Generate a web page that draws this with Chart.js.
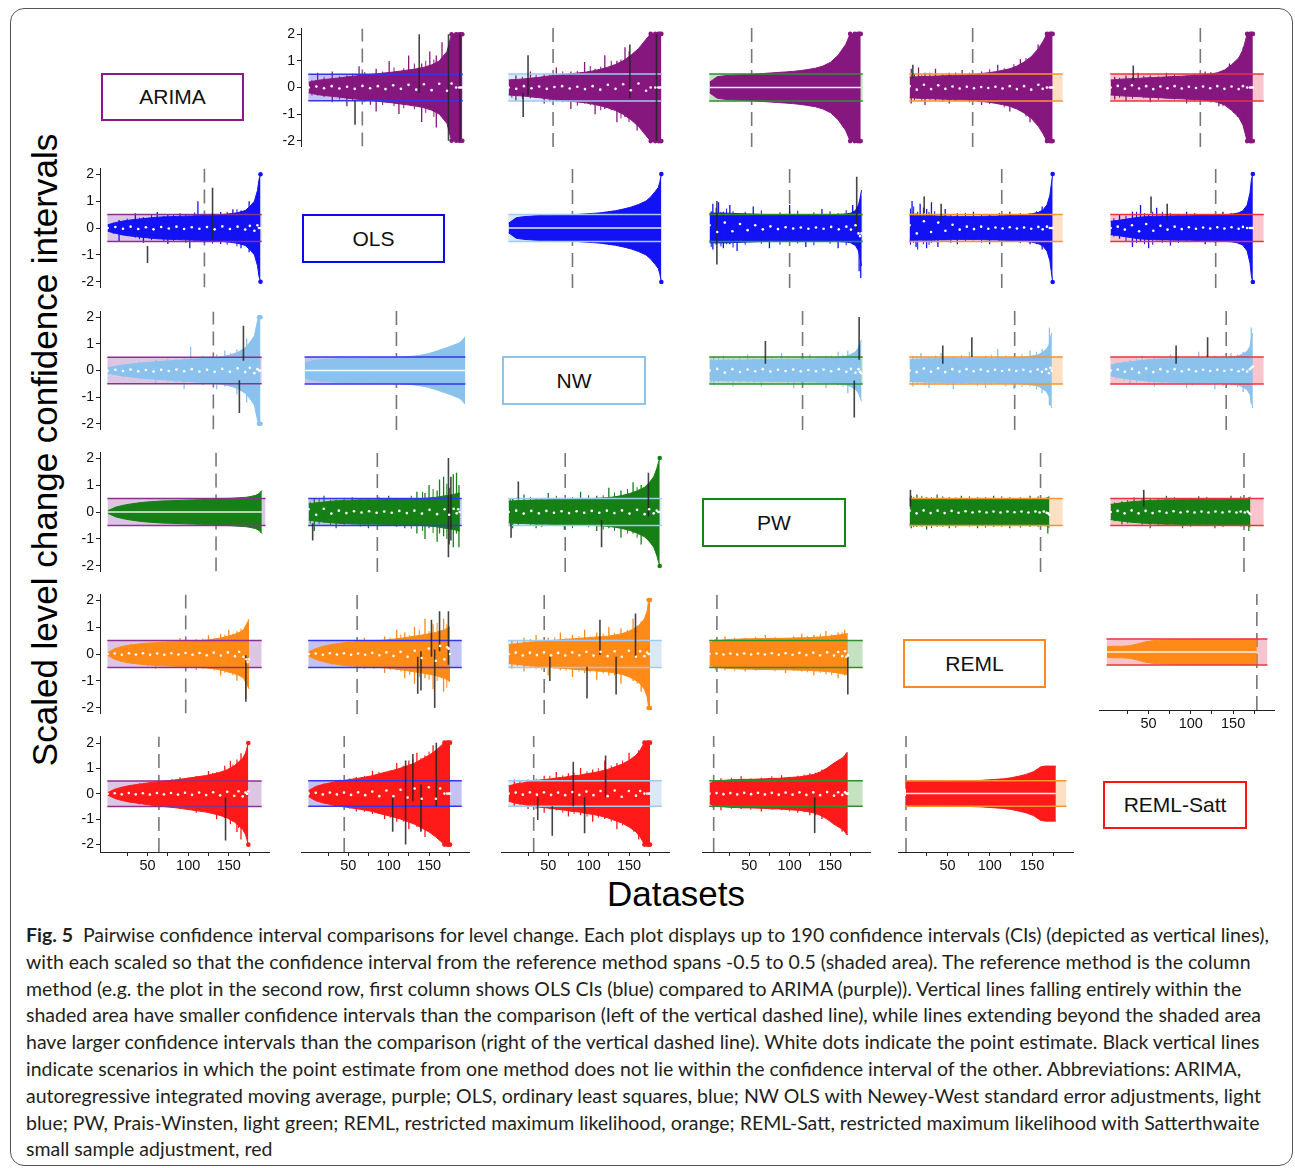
<!DOCTYPE html>
<html>
<head>
<meta charset="utf-8">
<script src="https://cdn.jsdelivr.net/npm/chart.js@4.4.0/dist/chart.umd.min.js"></script>
<style>
  body { margin: 0; background: #fff; }
  #fig { position: relative; width: 1295px; height: 1168px; overflow: hidden; font-family: 'Liberation Sans', Arial, sans-serif; }
  #frame { position: absolute; left: 10px; top: 8px; width: 1283px; height: 1158px; border: 1.5px solid #555; border-radius: 14px; box-sizing: border-box; }
  .box { position: absolute; box-sizing: border-box; border: 2.5px solid; background: #fff; font-size: 21px; color: #111; display: flex; align-items: center; justify-content: center; }
  #ytitle { position: absolute; left: -305px; top: 430px; width: 700px; height: 40px; line-height: 40px; font-size: 35px; text-align: center; transform: rotate(-90deg); white-space: nowrap; color: #000; }
  #xtitle { position: absolute; left: 476px; top: 874px; width: 400px; height: 40px; line-height: 40px; font-size: 35px; text-align: center; color: #000; }
  #caption { position: absolute; left: 26px; top: 922px; font-family: Lato, 'Open Sans', sans-serif; font-size: 19.5px; line-height: 26.8px; color: #231f20; white-space: nowrap; }
  #caption b { font-weight: 700; }
</style>
</head>
<body>
<div id="fig">
  <div id="frame"></div>
  <div id="ytitle">Scaled level change confidence intervals</div>
  <div id="xtitle">Datasets</div>
  <div id="caption">
    <div><b>Fig. 5</b>&nbsp; Pairwise confidence interval comparisons for level change. Each plot displays up to 190 confidence intervals (CIs) (depicted as vertical lines),</div>
    <div>with each scaled so that the confidence interval from the reference method spans -0.5 to 0.5 (shaded area). The reference method is the column</div>
    <div>method (e.g. the plot in the second row, first column shows OLS CIs (blue) compared to ARIMA (purple)). Vertical lines falling entirely within the</div>
    <div>shaded area have smaller confidence intervals than the comparison (left of the vertical dashed line), while lines extending beyond the shaded area</div>
    <div>have larger confidence intervals than the comparison (right of the vertical dashed line). White dots indicate the point estimate. Black vertical lines</div>
    <div>indicate scenarios in which the point estimate from one method does not lie within the confidence interval of the other. Abbreviations: ARIMA,</div>
    <div>autoregressive integrated moving average, purple; OLS, ordinary least squares, blue; NW OLS with Newey-West standard error adjustments, light</div>
    <div>blue; PW, Prais-Winsten, light green; REML, restricted maximum likelihood, orange; REML-Satt, restricted maximum likelihood with Satterthwaite</div>
    <div>small sample adjustment, red</div>
  </div>
</div>
<script>
// methods, in row / column order
const methods = ['ARIMA', 'OLS', 'NW', 'PW', 'REML', 'REML-Satt'];

// sample positions along each panel (fraction of the sorted datasets)
const pos = [0, .05, .1, .15, .2, .25, .3, .35, .4, .45, .5, .55, .6, .65, .7, .75, .8, .85, .9, .93, .96, .98, .99, 1];
const flat = [0, 0, 0, 0, 0, 0, 0, 0, 0, 0, 0, 0, 0, 0, 0, 0, 0, 0, 0, 0, 0, 0, 0, 0];

const xTickValues = [25, 50, 75, 100, 125, 150, 175];
const xTickLabels = [50, 100, 150];
const yTickValues = [-2, -1, 0, 1, 2];

// each row: number of CIs, dashed-line rank, typical half width (core), point estimates,
// single CIs sticking out of the core [rank, low, high] (long ones and short "fuzz"),
// black mismatch CIs [rank, low, high]

// ARIMA row (purple CIs)
const arimaN = [null, 190, 190, 188, 178, 177];
const arimaDash = [null, 67, 56, 53, 79, 112];
const arimaHalf = [null,
  [.2,.26,.3,.33,.36,.4,.43,.46,.49,.52,.55,.58,.62,.66,.7,.76,.85,1.0,1.35,2.2,2.5,2.5,2.5,2.5],
  [.28,.3,.32,.35,.38,.42,.45,.48,.51,.54,.57,.62,.68,.76,.86,1.0,1.2,1.45,1.8,2.3,2.5,2.5,2.5,2.5],
  [.2,.4,.44,.46,.47,.48,.5,.52,.54,.56,.58,.6,.63,.67,.72,.8,.94,1.2,1.6,2.1,2.5,2.5,2.5,2.5],
  [.38,.4,.41,.42,.43,.44,.45,.46,.47,.49,.52,.55,.59,.64,.7,.8,.95,1.15,1.45,1.7,2.2,2.5,2.5,2.5],
  [.28,.3,.32,.33,.34,.36,.37,.38,.4,.41,.42,.44,.45,.47,.5,.55,.65,.85,1.1,1.4,2.0,2.5,2.5,2.5]];
const arimaEst = [null,
  [0,.04,-.03,.05,-.04,.03,-.05,.06,-.03,.05,-.06,.08,-.05,.1,-.08,.12,-.1,.14,-.12,.15,0,0,0,0],
  [0,-.05,.05,-.03,.04,-.05,.02,.05,-.04,.03,-.06,.05,-.08,.1,-.05,.12,-.1,.15,-.12,0,0,0,0,0],
  flat,
  [.05,-.08,.1,-.06,.08,-.05,.04,-.04,.03,-.03,.02,-.02,.03,-.04,.05,-.06,.05,-.08,.1,-.05,0,0,0,0],
  [0,.06,-.05,.08,-.04,.05,-.06,.04,-.03,.05,-.04,.03,-.02,.04,-.03,.05,-.05,.04,-.06,.05,0,0,0,0]];
const arimaSpikes = [null,
  [[12,-.3,.55],[30,-.55,.6],[48,-.7,.45],[63,-.4,.8],[77,-.65,.5],[84,-.9,.7],[100,-.5,1.0],[112,-1.0,.6],[124,-.6,1.2],[140,-1.3,.9],[150,-.8,1.35],[158,-1.5,1.2],[165,-1.1,1.7]],
  [[10,-.5,.45],[28,-.4,.6],[45,-.6,.5],[60,-.5,.75],[78,-.8,.6],[95,-.6,.95],[108,-1.0,.7],[120,-.8,1.2],[135,-1.3,1.0],[145,-1.1,1.5],[160,-1.6,1.4]],
  [],
  [[3,-.6,.7],[12,-.3,.75],[20,-.65,.55],[33,-.5,.7],[50,-.6,.55],[66,-.4,.65],[90,-.65,.6],[110,-.5,.85],[125,-.9,.7],[138,-.8,1.05],[150,-1.3,1.0],[160,-1.2,1.6]],
  [[6,-.45,.4],[20,-.5,.45],[35,-.35,.55],[50,-.55,.45],[70,-.4,.55],[95,-.6,.45],[118,-.45,.6],[135,-.7,.55],[148,-.6,.9],[158,-1.1,.9],[165,-1.2,1.5]]];
const arimaFuzz = [null,
  [[5,-.3,.28],[20,-.36,.4],[39,-.45,.42],[55,-.5,.52],[70,-.55,.58],[92,-.66,.6],[106,-.7,.75],[118,-.78,.72],[131,-.82,.9],[145,-.95,1.0],[155,-1.1,1.05]],
  [[5,-.38,.32],[18,-.42,.4],[35,-.4,.48],[52,-.52,.5],[68,-.55,.6],[86,-.68,.62],[102,-.66,.8],[115,-.85,.78],[128,-.85,1.0],[140,-1.15,1.05],[150,-1.3,1.35]],
  [],
  [[7,-.48,.5],[16,-.5,.46],[26,-.46,.55],[42,-.52,.5],[58,-.5,.56],[75,-.56,.55],[100,-.62,.68],[118,-.74,.72],[130,-.78,.88],[145,-1.08,1.1]],
  [[12,-.38,.36],[28,-.42,.38],[42,-.4,.44],[60,-.46,.42],[80,-.45,.48],[105,-.52,.5],[125,-.56,.58],[140,-.7,.66],[153,-.95,.9]]];
const arimaBlack = [null,
  [[58,-1.4,-.5],[137,-.2,2],[173,-2,2],[187,-2,2]],
  [[25,-.3,1.2],[19,-1.1,-.2],[151,-.4,1.6],[184,-2,2]],
  [],
  [[5,.35,.85]],
  [[29,.26,.82]]];

// OLS row (blue CIs)
const olsN = [189, null, 190, 189, 178, 177];
const olsDash = [120, null, 80, 100, 115, 131];
const olsHalf = [
  [.12,.2,.26,.3,.33,.36,.39,.41,.42,.43,.44,.45,.46,.47,.48,.5,.53,.57,.65,.8,1.0,1.4,1.8,2.5],
  null,
  [.18,.38,.42,.44,.46,.47,.48,.49,.5,.5,.52,.54,.56,.6,.64,.7,.77,.87,1.0,1.15,1.35,1.5,1.7,2.1],
  [.55,.55,.55,.54,.53,.52,.51,.5,.5,.5,.49,.49,.49,.49,.49,.49,.5,.5,.52,.55,.65,.85,1.1,1.4],
  [.45,.45,.45,.45,.44,.44,.43,.43,.43,.43,.43,.44,.44,.45,.46,.47,.49,.52,.58,.66,.85,1.2,1.6,2.2],
  [.25,.28,.32,.36,.4,.42,.43,.44,.44,.45,.45,.45,.46,.46,.47,.48,.49,.51,.56,.64,.85,1.3,1.8,2.3]];
const olsEst = [
  [0,.04,-.03,.05,-.04,.03,-.05,.04,-.02,.05,-.04,.03,-.03,.04,-.05,.06,-.04,.05,-.06,.08,-.1,.1,0,0],
  null,
  flat,
  [.1,-.15,.2,-.12,.15,-.08,.1,-.05,.06,-.04,.03,-.02,.02,-.03,.02,-.03,.04,-.05,.05,-.06,.1,-.2,-.3,-.2],
  [.1,-.2,.25,-.15,.2,-.1,.12,-.06,.05,-.04,.05,-.03,.02,-.02,.03,-.02,.02,-.03,.04,-.05,.05,0,0,0],
  [0,.05,-.06,.1,-.12,.15,-.1,.08,-.06,.05,-.04,.03,-.03,.02,-.02,.03,-.02,.03,-.03,.04,0,0,0,0]];
const olsSpikes = [
  [[15,-.5,.3],[35,-.35,.55],[45,-.55,.4],[62,-.4,.6],[75,-.6,.5],[90,-.45,.55],[102,-.75,.3],[112,-.3,1.0],[120,-.55,.45],[140,-.6,.6],[155,-.5,.7],[165,-.75,.65],[175,-.9,1.0]],
  null,
  [],
  [[5,-.8,.9],[12,-.3,.95],[18,-.75,.6],[26,-.6,.85],[35,-.85,.5],[55,-.4,.8],[75,-.75,.4],[100,-.5,.85],[120,-.7,.5],[140,-.45,.7],[160,-.75,.55],[178,-.6,.85],[186,-1.6,.9],[188,-1.85,1.2]],
  [[4,-.5,1.0],[9,-.7,.55],[14,-.3,.9],[22,-.75,.7],[28,-.55,.95],[36,-.7,.45],[45,-.3,.7],[60,-.6,.55],[80,-.45,.6],[100,-.6,.5],[125,-.5,.6],[150,-.6,.55],[165,-.8,.8]],
  [[12,-.4,.5],[28,-.7,.6],[38,-.5,.85],[48,-.75,.5],[58,-.45,.75],[75,-.65,.55],[95,-.5,.6],[118,-.6,.5],[140,-.45,.6],[160,-.6,.55]]];
const olsFuzz = [
  [[8,-.22,.2],[25,-.3,.35],[40,-.42,.38],[55,-.45,.48],[70,-.5,.45],[82,-.48,.52],[97,-.55,.5],[108,-.5,.58],[130,-.58,.55],[148,-.62,.6],[160,-.68,.7]],
  null,
  [],
  [[3,-.7,.62],[9,-.62,.75],[15,-.68,.6],[22,-.6,.72],[30,-.72,.62],[45,-.62,.6],[65,-.58,.65],[88,-.62,.58],[110,-.57,.64],[130,-.64,.58],[150,-.58,.62],[170,-.64,.66]],
  [[2,-.62,.72],[6,-.55,.8],[11,-.8,.6],[18,-.6,.75],[25,-.62,.6],[32,-.52,.62],[52,-.55,.52],[70,-.5,.56],[90,-.54,.5],[112,-.5,.56],[138,-.56,.55],[158,-.6,.62]],
  [[5,-.32,.36],[20,-.5,.45],[33,-.55,.6],[43,-.6,.55],[53,-.62,.6],[65,-.55,.6],[85,-.55,.52],[105,-.52,.55],[130,-.54,.52],[150,-.52,.56],[168,-.7,.65]]];
const olsBlack = [
  [[50,-1.3,-.67],[130,-.4,1.5]],
  null,
  [],
  [[10,-1.35,1.0],[183,-.07,1.9]],
  [[19,.55,1.17],[40,.3,.9]],
  [[51,.55,1.17],[71,.3,.9]]];

// NW row (light blue CIs)
const nwN = [189, 190, null, 189, 177, 177];
const nwDash = [131, 109, null, 116, 131, 144];
const nwHalf = [
  [.1,.16,.2,.24,.27,.3,.32,.34,.36,.38,.4,.42,.44,.46,.48,.52,.58,.68,.85,1.05,1.3,1.85,2.2,2.3],
  [.28,.36,.4,.42,.44,.45,.46,.47,.47,.48,.48,.49,.5,.52,.55,.6,.68,.78,.88,.95,1.02,1.1,1.18,1.25],
  null,
  [.36,.37,.38,.38,.39,.39,.4,.4,.4,.41,.41,.41,.42,.42,.43,.44,.46,.49,.54,.6,.7,.85,1.0,1.15],
  [.4,.42,.43,.44,.44,.45,.45,.45,.45,.46,.46,.46,.46,.47,.47,.48,.5,.53,.58,.66,.78,.95,1.25,1.4],
  [.2,.26,.3,.33,.36,.39,.41,.43,.43,.44,.44,.45,.45,.46,.46,.47,.48,.5,.55,.62,.72,.9,1.2,1.4]];
const nwEst = [
  [0,.03,-.02,.04,-.03,.02,-.04,.03,-.02,.04,-.03,.05,-.04,.03,-.05,.06,-.05,.08,-.06,.1,-.1,.05,0,0],
  flat,
  null,
  [0,.06,-.08,.05,-.06,.04,-.03,.05,-.04,.03,-.02,.04,-.03,.02,-.03,.04,-.03,.05,-.05,.06,-.08,.05,-.05,-.1],
  [0,-.06,.07,-.05,.08,-.06,.05,-.04,.05,-.03,.04,-.03,.03,-.02,.03,-.02,.03,-.04,.04,-.05,.05,-.1,.1,0],
  [0,.04,-.05,.06,-.08,.07,-.06,.05,-.04,.05,-.03,.04,-.03,.03,-.02,.03,-.02,.03,-.03,.04,-.04,.05,.1,.15]];
const nwSpikes = [
  [[60,-.5,.4],[95,-.7,.5],[103,-.4,.9],[118,-.55,.55],[135,-.7,.6],[145,-.6,.75],[160,-.9,.8],[172,-1.2,1.2]],
  [],
  null,
  [[6,-.55,.5],[18,-.4,.55],[30,-.6,.45],[48,-.45,.6],[65,-.6,.45],[90,-.4,.65],[105,-.65,.45],[125,-.45,.6],[145,-.65,.55],[160,-.55,.7],[172,-.85,.75]],
  [[5,-.6,.55],[15,-.4,.65],[25,-.65,.5],[40,-.45,.65],[55,-.7,.5],[75,-.5,.7],[95,-.65,.55],[110,-.5,.8],[130,-.7,.55],[150,-.6,.75],[165,-.85,.8],[174,-1.3,1.6]],
  [[25,-.5,.4],[40,-.35,.55],[55,-.6,.5],[75,-.45,.6],[95,-.65,.5],[110,-.5,.7],[130,-.7,.55],[150,-.55,.65],[165,-.8,.7],[175,-1.25,1.6]]];
const nwFuzz = [
  [[20,-.25,.22],[40,-.32,.35],[75,-.42,.45],[85,-.46,.42],[110,-.48,.5],[127,-.52,.55],[152,-.62,.66],[165,-.75,.7]],
  [],
  null,
  [[3,-.45,.42],[12,-.42,.48],[24,-.46,.44],[38,-.44,.48],[56,-.48,.45],[78,-.45,.5],[98,-.5,.46],[115,-.46,.52],[135,-.52,.5],[152,-.5,.56],[166,-.62,.6]],
  [[10,-.5,.55],[20,-.55,.5],[33,-.5,.56],[48,-.56,.52],[65,-.52,.58],[85,-.58,.52],[102,-.54,.6],[120,-.6,.56],[140,-.62,.62],[158,-.7,.7]],
  [[8,-.32,.3],[18,-.38,.36],[33,-.45,.42],[48,-.5,.45],[65,-.52,.5],[85,-.5,.55],[102,-.56,.5],[120,-.52,.58],[140,-.58,.55],[158,-.62,.6]]];
const nwBlack = [
  [[168,.37,1.68],[163,-1.6,-.37]],
  [],
  null,
  [[70,.25,1.1],[186,.4,2.0],[180,-1.75,-.37]],
  [[42,.25,.93],[78,.5,1.24]],
  [[82,.25,.93],[121,.5,1.24]]];

// PW row (green CIs)
const pwN = [186, 188, 188, null, 174, 174];
const pwDash = [131, 86, 71, null, 163, 166];
const pwHalf = [
  [.05,.18,.25,.3,.34,.37,.39,.41,.42,.43,.44,.45,.46,.47,.48,.5,.51,.53,.55,.58,.62,.68,.74,.8],
  [.3,.34,.37,.4,.42,.43,.44,.45,.45,.45,.46,.46,.47,.48,.49,.5,.52,.55,.6,.62,.65,.68,.7,.7],
  [.4,.42,.43,.44,.45,.45,.46,.46,.47,.48,.49,.5,.51,.53,.56,.61,.68,.78,.92,1.08,1.3,1.6,1.8,2.1],
  null,
  [.45,.47,.48,.48,.48,.48,.48,.48,.48,.48,.48,.48,.48,.48,.48,.48,.48,.48,.49,.49,.5,.51,.54,.58],
  [.28,.32,.35,.38,.4,.42,.43,.44,.45,.45,.46,.46,.46,.47,.47,.47,.48,.48,.48,.49,.49,.5,.52,.56]];
const pwEst = [
  flat,
  [.1,-.1,.12,-.06,.05,-.04,.03,-.02,.03,-.03,.02,-.03,.04,-.04,.05,-.06,.08,-.08,.1,-.1,.12,-.05,.1,0],
  [0,.05,-.06,.04,-.05,.04,-.03,.03,-.04,.03,-.03,.04,-.03,.05,-.04,.06,-.06,.08,-.08,.1,-.05,.05,0,0],
  null,
  [.05,-.05,.06,-.04,.05,-.04,.04,-.03,.03,-.02,.02,-.02,.02,-.02,.02,-.01,.02,-.02,.02,-.02,.02,-.03,-.05,-.1],
  [0,.04,-.05,.06,-.05,.04,-.04,.03,-.03,.03,-.02,.02,-.02,.02,-.02,.02,-.02,.02,-.02,.02,-.02,.02,-.04,-.08]];
const pwSpikes = [
  [],
  [[8,-.7,.5],[20,-.4,.6],[35,-.6,.45],[55,-.45,.55],[75,-.6,.5],[100,-.45,.6],[120,-.6,.5],[135,-.8,.75],[145,-1.0,.7],[150,-.6,1.0],[160,-1.1,.8],[163,-.8,1.2],[168,-.9,1.3],[175,-1.2,.9],[180,-1.3,1.4],[184,-.8,1.45],[187,-1.3,1.0]],
  [[6,-.6,.5],[20,-.4,.65],[35,-.6,.5],[50,-.45,.7],[70,-.65,.5],[90,-.5,.75],[110,-.7,.6],[125,-.6,.9],[140,-.95,.8],[155,-.8,1.1],[165,-1.2,1.0]],
  null,
  [[3,-.6,.6],[10,-.55,.65],[22,-.65,.55],[35,-.55,.65],[50,-.6,.55],[65,-.5,.6],[85,-.6,.55],[105,-.55,.6],[125,-.6,.55],[150,-.55,.6],[172,-.8,.55]],
  [[15,-.45,.4],[30,-.4,.55],[50,-.6,.5],[70,-.5,.6],[90,-.6,.5],[110,-.5,.58],[130,-.6,.52],[150,-.5,.6],[172,-.7,.55]]];
const pwFuzz = [
  [],
  [[3,-.42,.38],[14,-.45,.48],[28,-.5,.45],[45,-.5,.52],[65,-.54,.5],[88,-.52,.56],[110,-.55,.52],[128,-.62,.6],[142,-.7,.75],[155,-.78,.85],[172,-1.0,1.05]],
  [[3,-.5,.48],[13,-.52,.55],[28,-.5,.56],[42,-.56,.52],[60,-.52,.6],[80,-.6,.55],[100,-.56,.62],[118,-.65,.62],[132,-.7,.72],[148,-.8,.85],[160,-.95,.92]],
  null,
  [[6,-.56,.55],[16,-.55,.6],[28,-.6,.55],[42,-.55,.58],[58,-.58,.54],[75,-.54,.58],[95,-.58,.55],[115,-.55,.58],[138,-.58,.55],[160,-.56,.58]],
  [[6,-.34,.36],[22,-.42,.44],[40,-.5,.48],[60,-.52,.5],[80,-.5,.55],[100,-.55,.52],[120,-.52,.56],[140,-.56,.52],[162,-.54,.58]]];
const pwBlack = [
  [],
  [[6,-1.05,-.42],[174,-1.67,2],[177,-1.05,1.3]],
  [[13,.5,1.13],[4,-.95,-.42],[116,-1.3,-.3],[174,-.17,1.45]],
  null,
  [[2,.2,.82]],
  [[42,.2,.82]]];

// REML row (orange CIs)
const remlN = [175, 176, 176, 172, null, 178];
const remlDash = [97, 61, 45, 10, null, 178];
const remlHalf = [
  [.05,.2,.28,.33,.36,.39,.41,.43,.44,.45,.46,.47,.48,.5,.52,.55,.6,.66,.74,.8,.9,1.1,1.2,1.3],
  [.08,.2,.28,.34,.38,.42,.44,.45,.46,.48,.5,.52,.55,.58,.62,.66,.7,.75,.8,.85,.9,.95,1.0,1.0],
  [.35,.38,.41,.44,.46,.48,.5,.52,.54,.56,.58,.6,.62,.64,.66,.7,.75,.84,.98,1.1,1.3,1.6,2.0,2.2],
  [.42,.5,.52,.54,.55,.56,.56,.57,.57,.58,.58,.58,.59,.6,.6,.62,.63,.65,.68,.7,.72,.75,.75,.75],
  null,
  [.2,.22,.22,.24,.3,.38,.43,.45,.46,.47,.47,.47,.48,.48,.48,.48,.48,.48,.49,.49,.49,.49,.49,.49]];
const remlEst = [
  [0,.02,-.03,.03,-.02,.03,-.03,.02,-.03,.03,-.02,.04,-.03,.04,-.05,.05,-.06,.06,-.08,.08,-.1,-.2,-.3,-.2],
  [0,.02,-.03,.03,-.02,.03,-.03,.02,-.03,.04,-.05,.06,-.07,.08,-.1,.12,-.15,.2,-.25,.3,-.2,.25,.2,0],
  [0,.05,-.06,.05,-.04,.06,-.05,.04,-.06,.06,-.05,.08,-.06,.08,-.08,.1,-.1,.12,-.1,.1,-.08,.05,0,0],
  [0,.02,-.02,.02,-.02,.02,-.02,.02,-.02,.03,-.03,.03,-.03,.04,-.04,.05,-.05,.06,-.06,.07,-.08,.1,-.1,-.05],
  null,
  flat];
const remlSpikes = [
  [[60,-.55,.4],[90,-.45,.6],[110,-.6,.55],[125,-.5,.7],[140,-.8,.75],[150,-.7,.9],[160,-1.0,.85],[171,-1.65,.9]],
  [[70,-.55,.6],[95,-.7,.65],[110,-.6,.9],[120,-.9,.8],[132,-1.1,1.0],[145,-.9,1.3],[155,-1.3,1.1],[168,-1.4,1.3]],
  [[5,-.55,.5],[20,-.65,.6],[35,-.55,.7],[50,-.8,.6],[65,-.6,.8],[80,-.85,.7],[95,-.7,.9],[110,-.95,.8],[125,-.8,1.0],[140,-1.1,.95],[155,-1.0,1.3],[165,-1.4,1.2]],
  [[20,-.6,.65],[45,-.65,.6],[70,-.6,.7],[95,-.7,.6],[115,-.65,.75],[130,-.8,.7],[145,-.75,.85],[160,-.9,.8],[168,-.8,.9]],
  null,
  []];
const remlFuzz = [
  [[30,-.36,.38],[50,-.45,.42],[75,-.46,.5],[100,-.52,.5],[118,-.55,.58],[132,-.62,.6],[145,-.7,.72],[155,-.8,.75],[165,-.85,.95]],
  [[30,-.4,.38],[50,-.46,.48],[60,-.5,.5],[82,-.55,.52],[102,-.6,.6],[115,-.65,.72],[126,-.78,.7],[138,-.85,.9],[150,-.95,.85],[160,-1.0,1.15],[172,-1.25,1.1]],
  [[12,-.45,.48],[28,-.5,.55],[42,-.58,.52],[58,-.55,.62],[72,-.62,.6],[88,-.65,.66],[102,-.68,.65],[118,-.72,.75],[132,-.8,.78],[148,-.85,.9],[160,-1.1,1.05]],
  [[8,-.58,.55],[32,-.62,.6],[58,-.62,.64],[82,-.64,.62],[105,-.62,.66],[122,-.68,.66],[138,-.7,.75],[152,-.78,.72],[165,-.76,.8]],
  null,
  []];
const remlBlack = [
  [[171,-1.78,-.05]],
  [[136,-1.47,-.1],[140,-1.35,.1],[153,-.1,1.27],[157,-2,.17],[163,.1,1.58],[174,-.4,1.58]],
  [[52,-1.0,-.1],[98,-1.65,-.47],[114,-.04,1.27],[134,-1.5,-.1],[158,-.16,1.5]],
  [[172,-1.5,-.1]],
  null,
  []];

// REML-Satt row (red CIs)
const sattN = [174, 176, 176, 172, 178, null];
const sattDash = [64, 45, 32, 6, 1, null];
const sattHalf = [
  [.05,.18,.26,.32,.36,.4,.44,.47,.5,.53,.56,.6,.64,.68,.72,.78,.85,.95,1.1,1.25,1.4,1.6,1.8,2.2],
  [.12,.28,.36,.42,.48,.52,.56,.6,.65,.7,.78,.85,.92,1.0,1.1,1.2,1.35,1.5,1.7,1.85,2.1,2.3,2.5,2.5],
  [.3,.38,.42,.48,.52,.55,.58,.62,.65,.7,.72,.78,.82,.88,.95,1.05,1.15,1.3,1.5,1.7,2.0,2.3,2.5,2.5],
  [.4,.5,.52,.54,.55,.56,.56,.57,.58,.6,.6,.62,.64,.66,.7,.75,.85,1.0,1.2,1.3,1.4,1.5,1.6,1.6],
  [.47,.47,.47,.48,.48,.48,.49,.5,.5,.51,.52,.54,.56,.58,.62,.68,.75,.86,1.05,1.08,1.08,1.08,1.08,1.08],
  null];
const sattEst = [
  [0,.02,-.02,.03,-.02,.02,-.03,.03,-.02,.03,-.03,.04,-.04,.05,-.05,.06,-.06,.08,-.08,.1,-.1,.05,0,.1],
  [0,.03,-.03,.04,-.03,.04,-.05,.05,-.06,.08,-.1,.12,-.1,.15,-.15,.2,-.2,.25,-.2,.2,0,0,0,0],
  [0,.04,-.04,.05,-.04,.05,-.05,.04,-.06,.06,-.05,.08,-.06,.1,-.1,.12,-.12,.1,-.08,.1,0,0,0,0],
  [0,.02,-.02,.02,-.03,.03,-.02,.03,-.03,.03,-.04,.04,-.04,.05,-.05,.05,-.06,.06,-.08,.05,-.05,.05,0,0],
  flat,
  null];
const sattSpikes = [
  [[90,-.6,.65],[110,-.75,.7],[125,-.7,.9],[135,-1.0,.85],[145,-.95,1.1],[152,-1.2,1.3],[160,-1.5,1.35],[165,-1.8,1.6]],
  [[60,-.7,.65],[80,-.8,.9],[95,-1.0,.85],[110,-1.1,1.2],[125,-1.4,1.3],[135,-1.3,1.6],[145,-1.7,1.5],[155,-1.6,1.9]],
  [[8,-.5,.55],[25,-.6,.55],[45,-.75,.7],[60,-.65,.85],[75,-.9,.8],[90,-.85,1.0],[105,-1.1,.95],[120,-1.0,1.3],[135,-1.4,1.2],[150,-1.3,1.6],[162,-1.8,1.7]],
  [[15,-.65,.6],[40,-.6,.68],[65,-.7,.62],[90,-.65,.72],[110,-.75,.7],[125,-.85,.8],[140,-1.0,.95],[155,-1.2,1.2],[165,-1.5,1.4]],
  [],
  null];
const sattFuzz = [
  [[40,-.42,.42],[65,-.5,.5],[80,-.56,.58],[100,-.62,.64],[118,-.72,.7],[130,-.78,.82],[140,-.88,.85],[155,-1.1,1.15],[162,-1.35,1.25]],
  [[20,-.38,.4],[40,-.52,.55],[52,-.6,.6],[70,-.72,.7],[88,-.8,.85],[102,-.95,.9],[118,-1.1,1.1],[130,-1.2,1.35],[140,-1.45,1.4],[150,-1.5,1.65]],
  [[15,-.45,.5],[35,-.6,.58],[52,-.62,.7],[68,-.75,.72],[82,-.8,.82],[98,-.9,.88],[112,-.95,1.0],[128,-1.1,1.1],[142,-1.25,1.3],[156,-1.5,1.45]],
  [[5,-.55,.5],[28,-.6,.62],[52,-.64,.6],[78,-.62,.68],[100,-.7,.66],[118,-.72,.75],[132,-.85,.82],[148,-1.0,1.05],[160,-1.3,1.25]],
  [],
  null];
const sattBlack = [
  [[146,-1.84,-.14]],
  [[105,-1.5,-.14],[121,-2,1.3],[130,-.3,1.55],[140,-1.5,.35],[159,-.5,2]],
  [[37,-1.03,-.14],[55,-1.65,-.5],[81,-.5,1.25],[95,-1.55,-.14],[121,-.14,1.5]],
  [[131,-1.55,-.14]],
  [],
  null];

const rows = [
  {n: arimaN, dash: arimaDash, half: arimaHalf, est: arimaEst, spikes: arimaSpikes, fuzz: arimaFuzz, black: arimaBlack},
  {n: olsN, dash: olsDash, half: olsHalf, est: olsEst, spikes: olsSpikes, fuzz: olsFuzz, black: olsBlack},
  {n: nwN, dash: nwDash, half: nwHalf, est: nwEst, spikes: nwSpikes, fuzz: nwFuzz, black: nwBlack},
  {n: pwN, dash: pwDash, half: pwHalf, est: pwEst, spikes: pwSpikes, fuzz: pwFuzz, black: pwBlack},
  {n: remlN, dash: remlDash, half: remlHalf, est: remlEst, spikes: remlSpikes, fuzz: remlFuzz, black: remlBlack},
  {n: sattN, dash: sattDash, half: sattHalf, est: sattEst, spikes: sattSpikes, fuzz: sattFuzz, black: sattBlack},
];

// styles
const dataColor = ['#86177f', '#1212f5', '#8ac2ed', '#167f16', '#ff8a18', '#ff1a1a'];
const bandFill = ['#dcc6e4', '#c2c2f4', '#dae9f8', '#c4e2bf', '#fddfc4', '#f9c4cb'];
const bandEdge = ['#8e3090', '#3535f0', '#9fcbee', '#2f8f2f', '#f9952c', '#ea3440'];
const boxEdge = ['#8a1a8a', '#0a0af0', '#8ec3ec', '#118811', '#ff8820', '#ff1414'];

// layout (px)
const colLeft = [100, 297, 497, 698, 898, 1099];
const colWidth = [173, 176, 176, 176, 176, 176];
const rowTop = [27.5, 168, 311, 452, 593.5, 735.7];
const rowBottom = [146.5, 288, 430, 572, 713.5, 851.7];
const boxRect = [[101, 73, 143, 48], [302, 214, 143, 49], [502, 356, 144, 49],
                 [702, 498, 144, 49], [903, 639, 143, 49], [1103, 781, 144, 48]];

const fig = document.getElementById('fig');
const clip = v => Math.max(-2, Math.min(2, v));
const segments = list => {
  const pts = [];
  list.forEach(([x, a, b]) => pts.push({x, y: clip(a)}, {x, y: clip(b)}, {x, y: null}));
  return pts;
};

methods.forEach((m, i) => {
  const d = document.createElement('div');
  d.className = 'box';
  const [l, t, w, h] = boxRect[i];
  d.style.cssText = `left:${l}px;top:${t}px;width:${w}px;height:${h}px;border-color:${boxEdge[i]}`;
  d.textContent = m;
  fig.appendChild(d);
});

function panel(r, c) {
  const row = rows[r];
  const n = row.n[c], h = row.half[c], e = row.est[c], dash = row.dash[c];
  const showY = c === 0 || (r === 0 && c === 1);
  const showX = r === 5 || (r === 4 && c === 5);
  let L = colLeft[c], W = colWidth[c], T = rowTop[r], B = rowBottom[r];
  if (r === 0 && c === 1) { L = 301; W = 173; }
  if (r === 4 && c === 5) B = 709;
  const yMin = r === 5 ? -2.29 : -2.22, yMax = r === 5 ? 2.26 : 2.22;
  const yw = showY ? 30 : 0, xh = showX ? 26 : 0;
  const cw = Math.round(W + yw), ch = Math.round(B - T + 20 + xh);

  const cv = document.createElement('canvas');
  cv.width = cw; cv.height = ch;
  cv.style.cssText = `position:absolute;left:${L - yw}px;top:${T - 10}px;width:${cw}px;height:${ch}px`;
  fig.appendChild(cv);

  const xs = pos.map(p => 1 + p * (n - 1));
  const up = xs.map((x, i) => ({x, y: clip(h[i])}));
  const lo = xs.map((x, i) => ({x, y: clip(-h[i])}));
  const mid = xs.map((x, i) => ({x, y: e[i]}));
  const smooth = e.every(v => v === 0);
  const cap = ctx => (ctx.raw && Math.abs(ctx.raw.y) >= 2 ? 2.3 : 0);
  const col = dataColor[r];

  new Chart(cv, {
    type: 'line',
    data: {
      datasets: [
        {data: [{x: .5, y: -.5}, {x: 190.5, y: -.5}], borderWidth: 0, pointRadius: 0, order: 11},
        {data: [{x: .5, y: .5}, {x: 190.5, y: .5}], borderWidth: 0, pointRadius: 0,
         fill: '-1', backgroundColor: bandFill[c], order: 10},
        {data: [{x: dash, y: yMin}, {x: dash, y: yMax}], borderColor: '#777', borderWidth: 1.6,
         borderDash: [14, 7], pointRadius: 0, order: 9},
        {data: lo, borderColor: col, borderWidth: 1, pointRadius: cap, pointBackgroundColor: col,
         pointBorderWidth: 0, order: 8},
        {data: up, borderColor: col, borderWidth: 1, backgroundColor: col, fill: '-1',
         pointRadius: cap, pointBackgroundColor: col, pointBorderWidth: 0, order: 7},
        {data: segments(row.fuzz[c]), borderColor: col, borderWidth: 1, pointRadius: 0, order: 6},
        {data: segments(row.spikes[c]), borderColor: col, borderWidth: 1.3, pointRadius: 0, order: 5},
        {data: [{x: .5, y: .5}, {x: 190.5, y: .5}, {x: 190.5, y: null}, {x: .5, y: -.5}, {x: 190.5, y: -.5}],
         borderColor: bandEdge[c], borderWidth: 1.5, pointRadius: 0, order: 4},
        {data: segments(row.black[c]), borderColor: 'rgba(35,35,35,0.85)', borderWidth: 1.6, pointRadius: 0, order: 3},
        {data: mid, showLine: smooth, borderColor: 'rgba(255,255,255,0.9)', borderWidth: 1.5,
         pointRadius: smooth ? 0 : 1.3, pointBackgroundColor: '#fff', pointBorderWidth: 0, order: 2},
      ]
    },
    options: {
      responsive: false,
      animation: false,
      devicePixelRatio: 1,
      events: [],
      layout: {padding: {top: 10, bottom: 10, left: 0, right: 0}},
      plugins: {legend: {display: false}, tooltip: {enabled: false}},
      scales: {
        x: {
          type: 'linear', min: -8.45, max: 199.45, display: showX,
          afterBuildTicks: s => { s.ticks = xTickValues.map(v => ({value: v})); },
          ticks: {callback: v => (xTickLabels.includes(v) ? String(v) : ''), autoSkip: false, maxRotation: 0,
                  font: {family: 'Liberation Sans', size: 14.5}, color: '#111', padding: 1},
          grid: {drawOnChartArea: false, tickLength: 4, color: '#222'},
          border: {color: '#222', width: 1},
          afterFit: s => { if (showX) s.height = 26; }
        },
        y: {
          type: 'linear', min: yMin, max: yMax, display: showY,
          afterBuildTicks: s => { s.ticks = yTickValues.map(v => ({value: v})); },
          ticks: {callback: v => String(v), font: {family: 'Liberation Sans', size: 14}, color: '#111', padding: 2},
          grid: {drawOnChartArea: false, tickLength: 4, color: '#222'},
          border: {color: '#222', width: 1},
          afterFit: s => { if (showY) s.width = 30; }
        }
      }
    }
  });
}

for (let r = 0; r < 6; r++) {
  for (let c = 0; c < 6; c++) {
    if (r !== c) panel(r, c);
  }
}
</script>
</body>
</html>
